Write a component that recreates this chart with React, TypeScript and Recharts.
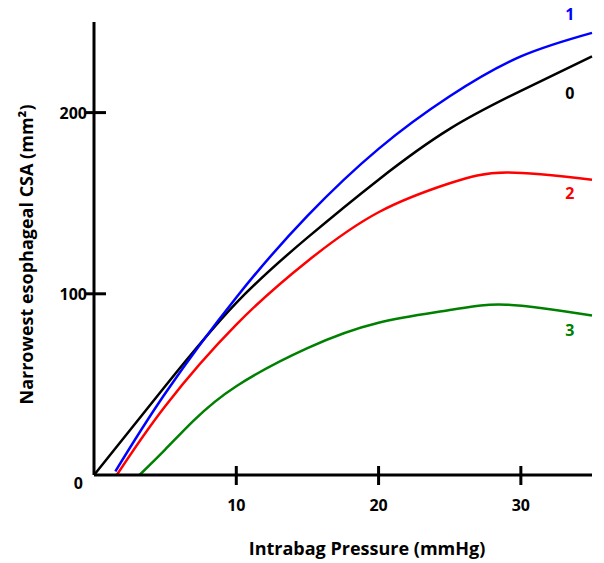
import { LineChart, Line, XAxis, YAxis, ReferenceDot, Label } from 'recharts'

// Intrabag pressure (mmHg) and narrowest CSA (mm²) per curve
const pressure0 = [0, 5, 10, 15, 20, 25, 30, 35]
const csa0 = [0, 49, 95, 131, 163, 191, 212, 231]

const pressure1 = [1.5, 5, 10, 15, 20, 25, 30, 35]
const csa1 = [2, 45, 98, 143, 180, 209, 231, 244]

const pressure2 = [1.6, 5, 10, 15, 20, 25, 29, 35]
const csa2 = [0, 38, 83, 118, 145, 161, 167, 163]

const pressure3 = [3.2, 5, 7, 10, 15, 20, 25, 29, 35]
const csa3 = [0, 14, 30, 49, 70, 84, 91, 94, 88]

const xTicks = [10, 20, 30]
const yTicks = [0, 100, 200]

const FONT = '"Open Sans", Lato, sans-serif'

const toPoints = (xs: number[], ys: number[]) => xs.map((x, i) => ({ x, y: ys[i] }))

const series = [
  { name: '0', color: '#000000', data: toPoints(pressure0, csa0), label: { x: 33.45, y: 210.8 } },
  { name: '1', color: '#0000ff', data: toPoints(pressure1, csa1), label: { x: 33.45, y: 254.4 } },
  { name: '2', color: '#ff0000', data: toPoints(pressure2, csa2), label: { x: 33.45, y: 155.6 } },
  { name: '3', color: '#008000', data: toPoints(pressure3, csa3), label: { x: 33.45, y: 80 } },
]

function YTick(props: any) {
  const { x, y, payload } = props
  if (payload.value === 0) {
    return (
      <text x={x - 11} y={y + 14} textAnchor="end" fontFamily={FONT} fontWeight={700} fontSize={16} fill="#000">
        0
      </text>
    )
  }
  return (
    <g>
      <line x1={x - 8} x2={x + 12} y1={y} y2={y} stroke="#000" strokeWidth={3} />
      <text x={x - 7} y={y + 6} textAnchor="end" fontFamily={FONT} fontWeight={700} fontSize={16} fill="#000">
        {payload.value}
      </text>
    </g>
  )
}

function XTick(props: any) {
  const { x, y, payload } = props
  return (
    <g>
      <line x1={x} x2={x} y1={y - 9} y2={y + 10} stroke="#000" strokeWidth={3} />
      <text x={x} y={y + 36} textAnchor="middle" fontFamily={FONT} fontWeight={700} fontSize={16} fill="#000">
        {payload.value}
      </text>
    </g>
  )
}

export default function App() {
  return (
    <div style={{ position: 'absolute', left: 0, top: 0 }}>
      <LineChart width={604} height={563} margin={{ top: 22, right: 12, bottom: 28, left: 38 }}>
        <XAxis
          type="number"
          dataKey="x"
          domain={[0, 35]}
          ticks={xTicks}
          tickSize={0}
          tickMargin={0}
          tickLine={false}
          tick={<XTick />}
          height={60}
          axisLine={{ stroke: '#000', strokeWidth: 3 }}
        >
          <Label
            content={({ viewBox }: any) => (
              <text
                x={367}
                y={viewBox.y + 80}
                textAnchor="middle"
                fontFamily={FONT}
                fontWeight={700}
                fontSize={18}
                fill="#000"
              >
                Intrabag Pressure (mmHg)
              </text>
            )}
          />
        </XAxis>
        <YAxis
          type="number"
          dataKey="y"
          domain={[0, 250]}
          ticks={yTicks}
          tickSize={0}
          tickMargin={0}
          tickLine={false}
          tick={<YTick />}
          width={56}
          axisLine={{ stroke: '#000', strokeWidth: 3 }}
        >
          <Label
            content={({ viewBox }: any) => {
              const cx = 33
              const cy = viewBox.y + viewBox.height / 2 + 6
              return (
                <text
                  x={cx}
                  y={cy}
                  transform={`rotate(-90 ${cx} ${cy})`}
                  textAnchor="middle"
                  fontFamily={FONT}
                  fontWeight={700}
                  fontSize={18}
                  fill="#000"
                >
                  Narrowest esophageal CSA (mm²)
                </text>
              )
            }}
          />
        </YAxis>
        {series.map((s) => (
          <Line
            key={s.name}
            data={s.data}
            dataKey="y"
            type="natural"
            stroke={s.color}
            strokeWidth={2.5}
            dot={false}
            activeDot={false}
            isAnimationActive={false}
          />
        ))}
        {series.map((s) => (
          <ReferenceDot
            key={'l' + s.name}
            x={s.label.x}
            y={s.label.y}
            r={0}
            ifOverflow="visible"
            label={{
              value: s.name,
              position: 'center',
              fill: s.color,
              fontFamily: FONT,
              fontWeight: 700,
              fontSize: 16,
            }}
          />
        ))}
      </LineChart>
    </div>
  )
}
